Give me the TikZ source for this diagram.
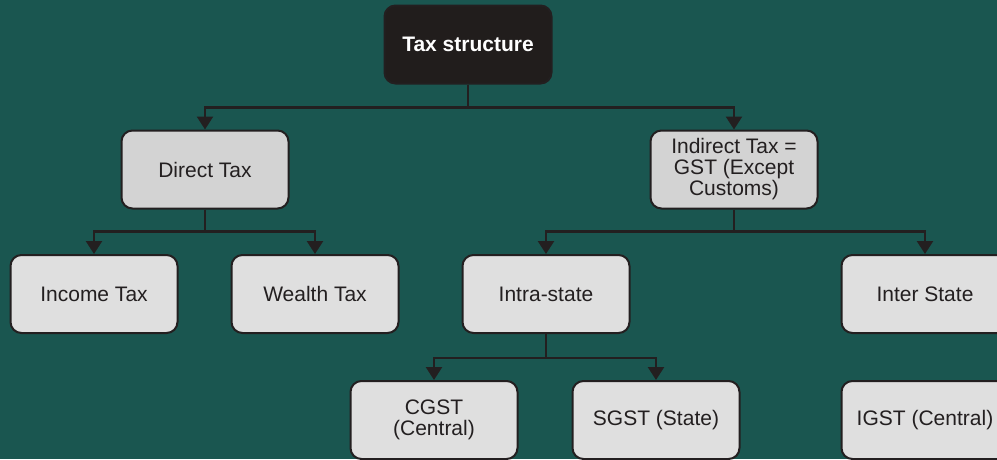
\documentclass[tikz,border=0pt]{standalone}
\usepackage{fontspec}
\setmainfont{Liberation Sans}
\usetikzlibrary{arrows.meta}
\definecolor{bgteal}{HTML}{1A5650}
\definecolor{topfill}{HTML}{211D1C}
\definecolor{midfill}{HTML}{D3D3D3}
\definecolor{lowfill}{HTML}{DFDFDF}
\definecolor{edgec}{HTML}{231F20}
\tikzset{
  box/.style={draw=edgec, line width=2pt, rounded corners=11pt, minimum width=167pt, minimum height=78pt, inner sep=0pt, align=center, text=edgec, font=\fontsize{21}{21}\selectfont},
  topbox/.style={box, fill=topfill, text=white, font=\fontsize{21}{21}\selectfont\bfseries},
  midbox/.style={box, fill=midfill},
  lowbox/.style={box, fill=lowfill},
  conn/.style={draw=edgec, line width=2.5pt},
  arr/.style={conn, -{Triangle[length=13pt 0,width=16pt 0]}}
}
\begin{document}
\begin{tikzpicture}[x=1pt,y=-1pt]
\fill[bgteal] (0,0) rectangle (997,459);
\useasboundingbox (0,0) rectangle (997,459);
\begin{scope}
\clip (0,0) rectangle (997,459);
\node[topbox] (top) at (468,44.5) {Tax structure};
\node[midbox] (direct) at (205,169.5) {Direct Tax};
\node[midbox] (indirect) at (734,169.5) {Indirect Tax =\\GST (Except\\Customs)};
\node[lowbox] (income) at (94,294) {Income Tax};
\node[lowbox] (wealth) at (315,294) {Wealth Tax};
\node[lowbox] (intra) at (546,294) {Intra-state};
\node[lowbox] (inter) at (925,294) {Inter State};
\node[lowbox] (cgst) at (434,420) {CGST\\(Central)};
\node[lowbox] (sgst) at (656,420) {SGST (State)};
\node[lowbox] (igst) at (925,420) {IGST (Central)};

\draw[arr] (top.south) -- ++(0,23) -| (direct.north);
\draw[arr] (top.south) -- ++(0,23) -| (indirect.north);
\draw[arr] (direct.south) -- ++(0,22) -| (income.north);
\draw[arr] (direct.south) -- ++(0,22) -| (wealth.north);
\draw[arr] (indirect.south) -- ++(0,22) -| (intra.north);
\draw[arr] (indirect.south) -- ++(0,22) -| (inter.north);
\draw[arr] (intra.south) -- ++(0,24) -| (cgst.north);
\draw[arr] (intra.south) -- ++(0,24) -| (sgst.north);
\end{scope}
\end{tikzpicture}
\end{document}
